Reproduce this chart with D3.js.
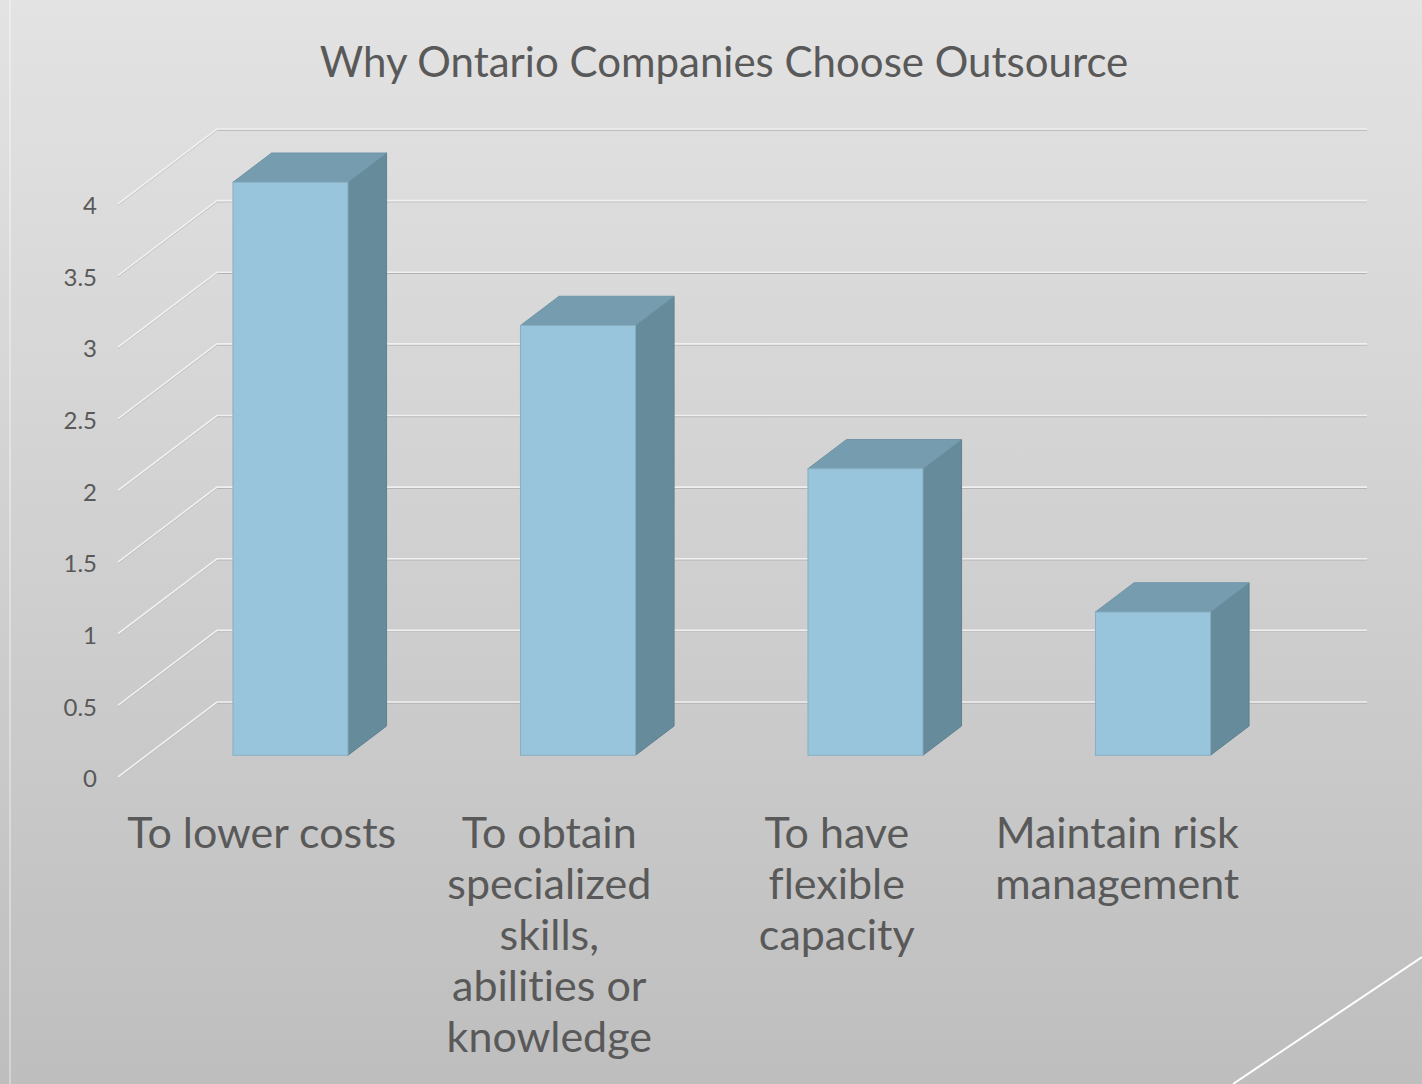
<!DOCTYPE html>
<html>
<head>
<meta charset="utf-8">
<script src="https://d3js.org/d3.v7.min.js"></script>
<style>
  html, body { margin: 0; padding: 0; }
  body { width: 1422px; height: 1084px; overflow: hidden; }
  text { font-family: Lato, "Open Sans", sans-serif; fill: #595959; font-variant-ligatures: none; }
</style>
</head>
<body>
<div id="chart"></div>
<script>
const categories = [
  ["To lower costs"],
  ["To obtain", "specialized", "skills,", "abilities or", "knowledge"],
  ["To have", "flexible", "capacity"],
  ["Maintain risk", "management"]
];
const values = [4, 3, 2, 1];
const yTicks = [0, 0.5, 1, 1.5, 2, 2.5, 3, 3.5, 4];
const title = "Why Ontario Companies Choose Outsource";

const W = 1422, H = 1084;
// depth of the 3D box (front plane -> back wall)
const DX = 99, DY = -75;
const f0 = 0.29, f1 = 0.68;

const svg = d3.select("#chart").append("svg")
  .attr("width", W).attr("height", H);

const defs = svg.append("defs");
const grad = defs.append("linearGradient").attr("id", "bg")
  .attr("x1", 0).attr("y1", 0).attr("x2", 0).attr("y2", 1);
grad.append("stop").attr("offset", "0%").attr("stop-color", "#e3e3e3");
grad.append("stop").attr("offset", "100%").attr("stop-color", "#bebebe");

svg.append("rect").attr("width", W).attr("height", H).attr("fill", "url(#bg)");

// slide decorations
svg.append("line").attr("x1", 10).attr("x2", 10).attr("y1", 0).attr("y2", H)
  .attr("stroke", "#ffffff").attr("stroke-opacity", 0.45).attr("stroke-width", 1.5);
svg.append("line").attr("x1", 1233).attr("y1", H).attr("x2", 1422).attr("y2", 957)
  .attr("stroke", "#ffffff").attr("stroke-width", 2);

const x = d3.scaleBand().domain(d3.range(categories.length)).range([118, 1268]);
const y = d3.scaleLinear().domain([0, 4]).range([777, 204]);

// gridlines: diagonal on the side floor, then along the back wall
const grid = svg.append("g");
yTicks.forEach(t => {
  const pts = [[118, y(t)], [118 + DX, y(t) + DY], [1268 + DX, y(t) + DY]];
  grid.append("path").attr("d", d3.line()(pts.map(p => [p[0], p[1] + 1.2])))
    .attr("fill", "none").attr("stroke", "#b0b0b0").attr("stroke-width", 1);
  grid.append("path").attr("d", d3.line()(pts))
    .attr("fill", "none").attr("stroke", "#f0f0f0").attr("stroke-width", 1.6);
});

// y axis labels
const yAxis = svg.append("g").attr("transform", "translate(97,2)")
  .call(d3.axisLeft(y).tickValues(yTicks).tickSize(0).tickPadding(0)
    .tickFormat(d3.format("")));
yAxis.select(".domain").remove();
yAxis.selectAll("text").style("font-size", "24px")
  .style("font-family", "Lato, sans-serif").attr("fill", "#595959");

// bars
const bars = svg.append("g").selectAll("g").data(values).join("g");
bars.each(function(v, i) {
  const g = d3.select(this);
  const bw = x.bandwidth() * 0.4;
  const x0 = x(i) + (x.bandwidth() - bw) / 2 + DX * f0;
  const x1 = x0 + bw;
  const yb = y(0) + DY * f0, yt = y(v) + DY * f0;
  const dx = DX * (f1 - f0), dy = DY * (f1 - f0);
  g.append("path")
    .attr("d", d3.line()([[x1, yt], [x1 + dx, yt + dy], [x1 + dx, yb + dy], [x1, yb]]) + "Z")
    .attr("fill", "#668b9b").attr("stroke", "#5d8091").attr("stroke-width", 1);
  g.append("path")
    .attr("d", d3.line()([[x0, yt], [x1, yt], [x1 + dx, yt + dy], [x0 + dx, yt + dy]]) + "Z")
    .attr("fill", "#769daf").attr("stroke", "#6f95a7").attr("stroke-width", 1);
  g.append("rect").attr("x", x0).attr("y", yt).attr("width", bw).attr("height", yb - yt)
    .attr("fill", "#98c4dc").attr("stroke", "#88aec2").attr("stroke-width", 1);
});

// category labels (the last one is pulled in slightly, as in the original)
const labelShift = [0, 0, 0, -7];
const labels = svg.append("g").selectAll("text").data(categories).join("text")
  .attr("x", (d, i) => x(i) + x.bandwidth() / 2 + labelShift[i])
  .attr("y", 848)
  .attr("text-anchor", "middle")
  .style("font-size", "43px");
labels.each(function(lines) {
  d3.select(this).selectAll("tspan").data(lines).join("tspan")
    .attr("x", d3.select(this).attr("x"))
    .attr("dy", (d, j) => j === 0 ? 0 : 51)
    .text(d => d);
});

svg.append("text").attr("x", 724).attr("y", 77).attr("text-anchor", "middle")
  .style("font-size", "42px").text(title);
</script>
</body>
</html>
